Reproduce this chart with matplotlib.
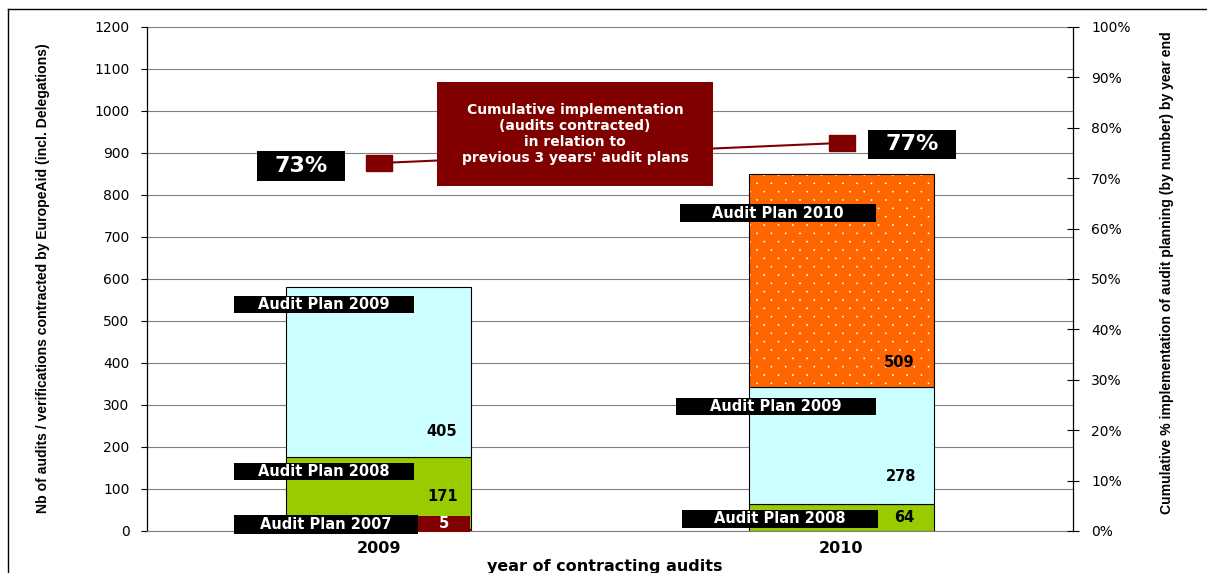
import matplotlib
matplotlib.use('Agg')
import matplotlib.pyplot as plt
import matplotlib.hatch as mhatch
from matplotlib.patches import Rectangle
from matplotlib.lines import Line2D
from matplotlib.path import Path
import numpy as np

# ---- data -------------------------------------------------------------
categories = ['2009', '2010']
plan_2007 = [5, 0]
plan_2008 = [171, 64]
plan_2009 = [405, 278]
plan_2010 = [0, 509]
cumulative_pct = [73, 77]
left_ticks = list(range(0, 1201, 100))
right_ticks = list(range(0, 101, 10))

DARK_RED = '#800000'
GREEN = '#99CC00'
CYAN = '#CCFFFF'
ORANGE = '#FF6600'
GRID = '#808080'


class StaggeredDots(mhatch.HatchPatternBase):
    """Fine dot texture for '.': rows of dots, every other row shifted."""
    cols, rows, radius = 7, 12, 0.0055

    def __init__(self, hatch, density):
        self.centres = []
        if hatch.count('.'):
            for r in range(self.rows + 1):
                y = r / self.rows
                if r % 2 == 0:
                    xs = np.linspace(0, 1, self.cols + 1)
                else:
                    xs = (np.arange(self.cols) + 0.5) / self.cols
                self.centres += [(xx, y) for xx in xs]
        self.circle = Path.unit_circle()
        self.num_vertices = len(self.centres) * len(self.circle.vertices)

    def set_vertices_and_codes(self, vertices, codes):
        nv = len(self.circle.vertices)
        for i, c in enumerate(self.centres):
            vertices[i * nv:(i + 1) * nv] = self.circle.vertices * self.radius + c
            codes[i * nv:(i + 1) * nv] = self.circle.codes


mhatch._hatch_types = [t for t in mhatch._hatch_types
                       if t is not mhatch.SmallFilledCircles] + [StaggeredDots]

plt.rcParams['font.family'] = ['DejaVu Sans']
plt.rcParams['hatch.linewidth'] = 0.5

W, H = 1207, 573
fig = plt.figure(figsize=(W / 100, H / 100), dpi=100)
ax = fig.add_axes([147 / W, 1 - 531 / H, 926 / W, 504 / H])
ax2 = ax.twinx()

x = np.arange(len(categories))
bw = 0.4
edge = dict(edgecolor='black', linewidth=0.8)


def stack(values, bottom, **kw):
    v = np.asarray(values, dtype=float)
    m = v > 0
    ax.bar(x[m], v[m], bw, bottom=bottom[m], **kw)
    return bottom + v


bottom = np.zeros(len(categories))
bottom = stack(plan_2007, bottom, color=DARK_RED, zorder=2, **edge)
bottom = stack(plan_2008, bottom, color=GREEN, zorder=2, **edge)
bottom = stack(plan_2009, bottom, color=CYAN, zorder=2, **edge)
# dotted orange segment: hatch first, then the black outline on top
stack(plan_2010, bottom, color=ORANGE, edgecolor='white', linewidth=0,
      hatch='.', zorder=2)
stack(plan_2010, bottom, fill=False, zorder=2.1, **edge)

# ---- axes styling -----------------------------------------------------
ax.set_xlim(-0.5, 1.5)
ax.set_ylim(0, 1200)
ax.set_yticks(left_ticks)
ax.set_xticks(x)
ax.set_xticklabels(categories, fontsize=11.5, fontweight='bold')
ax.tick_params(axis='x', length=0, pad=7)
ax.tick_params(axis='y', direction='out', length=4, width=0.8, labelsize=10,
               pad=8.5)
ax.yaxis.grid(True, color=GRID, linewidth=0.8)
ax.set_axisbelow(True)
ax.spines['top'].set_visible(False)
ax.spines['right'].set_visible(False)
ax.spines['bottom'].set_color(GRID)
ax.spines['left'].set_linewidth(0.9)

ax2.set_ylim(0, 100)
ax2.set_yticks(right_ticks)
ax2.set_yticklabels([f'{t}%' for t in right_ticks])
ax2.tick_params(axis='y', direction='inout', length=8, width=0.8,
                labelsize=10, pad=9)
for s in ('top', 'left', 'bottom'):
    ax2.spines[s].set_visible(False)
ax2.spines['right'].set_linewidth(0.9)


# ---- labels -----------------------------------------------------------
def label_box(axis, cat, x0, x1, yc, h, text, fc, fontsize, tc='white'):
    axis.add_patch(Rectangle((cat + x0, yc - h / 2), x1 - x0, h,
                             facecolor=fc, edgecolor='none', zorder=5,
                             clip_on=False))
    axis.text(cat + (x0 + x1) / 2, yc, text, color=tc, ha='center',
              va='center', fontsize=fontsize, fontweight='bold', zorder=6)


lab_fs = 10.5
label_box(ax, 0, -0.312, 0.077, 539, 40, 'Audit Plan 2009', 'black', lab_fs)
label_box(ax, 0, -0.312, 0.077, 142, 40, 'Audit Plan 2008', 'black', lab_fs)
label_box(ax, 0, -0.312, 0.085, 15.5, 43, 'Audit Plan 2007', 'black', lab_fs)
label_box(ax, 0, 0.085, 0.198, 16.7, 38, f'{plan_2007[0]}', DARK_RED, lab_fs)
label_box(ax, 1, -0.349, 0.0745, 757, 43, 'Audit Plan 2010', 'black', lab_fs)
label_box(ax, 1, -0.357, 0.0745, 296, 40, 'Audit Plan 2009', 'black', lab_fs)
label_box(ax, 1, -0.344, 0.079, 28.6, 43, 'Audit Plan 2008', 'black', lab_fs)

val_fs = 10.5
for cat, dx, y, v in [(0, 0.137, 236, plan_2009[0]),
                      (0, 0.139, 81, plan_2008[0]),
                      (1, 0.124, 402, plan_2010[1]),
                      (1, 0.128, 129, plan_2009[1]),
                      (1, 0.135, 31, plan_2008[1])]:
    ax.text(cat + dx, y, f'{v}', ha='center', va='center', fontsize=val_fs,
            fontweight='bold', color='black', zorder=6)

# ---- cumulative implementation line ----------------------------------
rect_marker = [(-1, -0.62), (1, -0.62), (1, 0.62), (-1, 0.62), (-1, -0.62)]
ax2.plot(x, cumulative_pct, color=DARK_RED, linewidth=1.5, marker=rect_marker,
         markersize=19, markerfacecolor=DARK_RED, markeredgecolor=DARK_RED,
         zorder=3)

label_box(ax2, 0, -0.262, -0.072, 72.4, 6.0, f'{cumulative_pct[0]}%',
          'black', 16)
label_box(ax2, 1, 0.057, 0.247, 76.7, 5.8, f'{cumulative_pct[1]}%',
          'black', 16)

ax2.add_patch(Rectangle((0.126, 68.5), 0.5965, 20.6, facecolor=DARK_RED,
                        edgecolor='none', zorder=5))
ax2.text(0.4244, 78.8, "Cumulative implementation\n(audits contracted)\n"
         "in relation to\nprevious 3 years' audit plans", color='white',
         ha='center', va='center', fontsize=10, fontweight='bold',
         linespacing=1.2, zorder=6)

# ---- axis titles ------------------------------------------------------
narrow = ['Liberation Sans Narrow', 'Liberation Sans', 'DejaVu Sans']
fig.text(43 / W, 1 - 278.5 / H,
         'Nb of audits / verifications contracted by EuropeAid '
         '(incl. Delegations)', rotation=90, ha='center', va='center',
         fontsize=10.1, fontweight='bold', family=narrow)
fig.text(1167 / W, 1 - 272.5 / H,
         'Cumulative % implementation of audit planning (by number) '
         'by year end', rotation=90, ha='center', va='center',
         fontsize=10.1, fontweight='bold', family=narrow)
fig.text(605 / W, 1 - 566 / H, 'year of contracting audits', ha='center',
         va='center', fontsize=11.5, fontweight='bold')

# ---- outer frame ------------------------------------------------------
fx, fy = 7.5 / W, 1 - 8.5 / H
fig.add_artist(Line2D([fx, fx], [0, fy], transform=fig.transFigure,
                      color='black', linewidth=1))
fig.add_artist(Line2D([fx, 1], [fy, fy], transform=fig.transFigure,
                      color='black', linewidth=1))

fig.savefig('out.png', dpi=100)
